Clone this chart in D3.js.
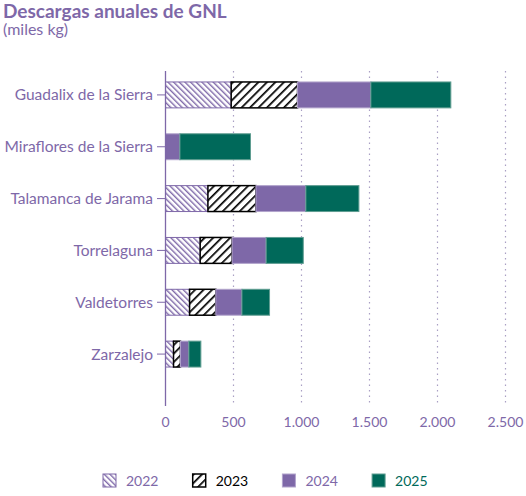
<!DOCTYPE html>
<html>
<head>
<meta charset="utf-8">
<script src="https://cdn.jsdelivr.net/npm/d3@7"></script>
<style>
  body { margin: 0; background: #fff; }
  text { font-family: Lato, "Open Sans", sans-serif; }
</style>
</head>
<body>
<div id="container"></div>
<script>
"use strict";

// data
const towns = ["Guadalix de la Sierra", "Miraflores de la Sierra", "Talamanca de Jarama",
    "Torrelaguna", "Valdetorres", "Zarzalejo"];
const years = ["2022", "2023", "2024", "2025"];
const v2022 = [483, 0, 312, 255, 177, 59];
const v2023 = [488, 0, 353, 235, 193, 51];
const v2024 = [539, 106, 367, 250, 192, 62];
const v2025 = [588, 519, 390, 273, 203, 88];
const xTicks = [0, 500, 1000, 1500, 2000, 2500];

const purple = "#7e68a8",
    teal = "#00695a";

const width = 526, height = 496;
const svg = d3.select("#container").append("svg")
    .attr("width", width)
    .attr("height", height);

// patterns for the hatched years
const defs = svg.append("defs");
const p22 = defs.append("pattern")
    .attr("id", "hatch2022")
    .attr("patternUnits", "userSpaceOnUse")
    .attr("width", 4).attr("height", 4)
    .attr("patternTransform", "rotate(-45)");
p22.append("rect").attr("width", 4).attr("height", 4).attr("fill", "#fff");
p22.append("line").attr("x1", 0).attr("y1", 0).attr("x2", 0).attr("y2", 4)
    .attr("stroke", purple).attr("stroke-width", 2.8);

const p23 = defs.append("pattern")
    .attr("id", "hatch2023")
    .attr("patternUnits", "userSpaceOnUse")
    .attr("width", 6).attr("height", 6)
    .attr("patternTransform", "rotate(45)");
p23.append("rect").attr("width", 6).attr("height", 6).attr("fill", "#fff");
p23.append("line").attr("x1", 0).attr("y1", 0).attr("x2", 0).attr("y2", 6)
    .attr("stroke", "#000").attr("stroke-width", 3.4);

const fills = ["url(#hatch2022)", "url(#hatch2023)", purple, teal];
const strokes = [purple, "#000", "#b2a4cc", "#5f9d91"];
const textColors = [purple, "#000", purple, teal];

// scales
const x = d3.scaleLinear()
    .domain([0, 2500])
    .range([165.5, 505.5]);

const y = d3.scaleBand()
    .domain(towns)
    .range([69, 380])
    .paddingInner(0.5)
    .paddingOuter(0.25);

// title
svg.append("text")
    .attr("x", 3).attr("y", 18)
    .attr("fill", purple)
    .attr("font-size", 19)
    .attr("font-weight", "bold")
    .text("Descargas anuales de GNL");
svg.append("text")
    .attr("x", 3).attr("y", 35)
    .attr("fill", purple)
    .attr("font-size", 16)
    .text("(miles kg)");

// dotted gridlines
svg.append("g")
    .selectAll("line")
    .data(xTicks.slice(1))
    .enter().append("line")
        .attr("x1", d => x(d)).attr("x2", d => x(d))
        .attr("y1", 71).attr("y2", 406)
        .attr("stroke", "#a99fc4")
        .attr("stroke-width", 1.2)
        .attr("stroke-dasharray", "1.5,4");

// x axis labels
const fmt = d3.formatLocale({decimal: ",", thousands: ".", grouping: [3], currency: ["", "€"]}).format(",");
svg.append("g")
    .selectAll("text")
    .data(xTicks)
    .enter().append("text")
        .attr("x", d => x(d))
        .attr("y", 427)
        .attr("text-anchor", "middle")
        .attr("fill", purple)
        .attr("font-size", 14)
        .text(d => fmt(d));

// stacked bars
const rows = towns.map((t, i) => ({town: t, "2022": v2022[i], "2023": v2023[i], "2024": v2024[i], "2025": v2025[i]}));
const series = d3.stack().keys(years)(rows);

svg.append("g")
    .selectAll("g")
    .data(series)
    .enter().append("g")
        .attr("fill", (d, i) => fills[i])
        .attr("stroke", (d, i) => strokes[i])
        .attr("stroke-width", (d, i) => i == 1 ? 1.5 : 1)
    .selectAll("rect")
    .data(d => d.filter(s => s[1] > s[0]))
    .enter().append("rect")
        .attr("x", d => x(d[0]))
        .attr("y", d => y(d.data.town))
        .attr("width", d => x(d[1]) - x(d[0]))
        .attr("height", y.bandwidth());

// y axis: line, ticks, labels
svg.append("line")
    .attr("x1", 165.5).attr("x2", 165.5)
    .attr("y1", 71).attr("y2", 406)
    .attr("stroke", purple)
    .attr("stroke-width", 1.3);

const yTicks = svg.append("g")
    .selectAll("g")
    .data(towns)
    .enter().append("g")
        .attr("transform", d => `translate(0, ${y(d) + y.bandwidth() / 2})`);
yTicks.append("line")
    .attr("x1", 157).attr("x2", 165)
    .attr("stroke", purple);
yTicks.append("text")
    .attr("x", 153)
    .attr("dy", "0.35em")
    .attr("text-anchor", "end")
    .attr("fill", purple)
    .attr("font-size", 15.5)
    .text(d => d);

// legend
const legend = svg.append("g")
    .selectAll("g")
    .data(years)
    .enter().append("g")
        .attr("transform", (d, i) => `translate(${103 + i * 89.7}, 474)`);
legend.append("rect")
    .attr("width", 13).attr("height", 13)
    .attr("fill", (d, i) => fills[i])
    .attr("stroke", (d, i) => strokes[i])
    .attr("stroke-width", (d, i) => i == 1 ? 1.5 : 1);
legend.append("text")
    .attr("x", 23)
    .attr("y", 12)
    .attr("fill", (d, i) => textColors[i])
    .attr("font-size", 14)
    .text(d => d);
</script>
</body>
</html>
